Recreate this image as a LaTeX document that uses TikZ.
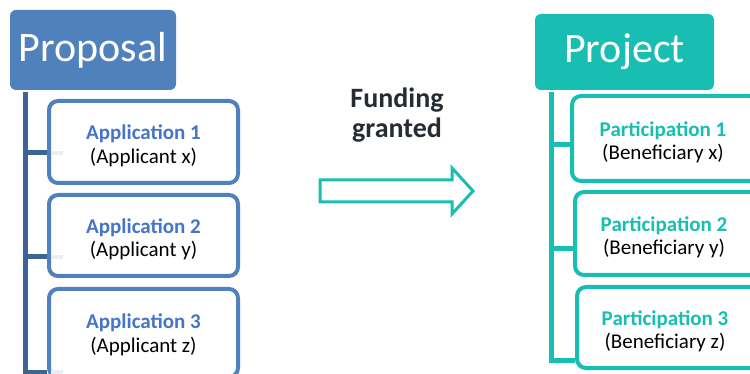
\documentclass[tikz,border=0pt]{standalone}
\usepackage{fontspec}
\setmainfont{Carlito}
\definecolor{pblue}{HTML}{4F81BD}
\definecolor{tblue}{HTML}{4674C8}
\definecolor{trunkblue}{HTML}{3C6596}
\definecolor{faintblue}{HTML}{E8EEF5}
\definecolor{teal}{HTML}{17BEB1}
\definecolor{darktext}{HTML}{262C33}
\begin{document}
\begin{tikzpicture}[x=1pt,y=-1pt,
  headbox/.style={rounded corners=6pt, text=white, inner sep=0pt,
     font=\fontsize{42}{46}\selectfont},
  itembox/.style={draw, line width=4pt, rounded corners=9pt, fill=white,
     inner sep=0pt},
  itemtext/.style={align=center, inner sep=0pt, yshift=-4pt,
     font=\fontsize{21}{23.5}\selectfont},
  trunk/.style={line width=5pt},
  faint/.style={faintblue, line width=4pt}]
\useasboundingbox (0,0) rectangle (750,374);
% ---------- left: proposal ----------
\node[headbox, fill=pblue, minimum width=166pt, minimum height=80pt] (prop) at (93,50) {Proposal};
\coordinate (ltop) at (25,92);
\coordinate (lbot) at (25,376);
\coordinate (l1) at (25,153);
\coordinate (l2) at (25,257);
\coordinate (l3) at (25,372);
\draw[trunk, trunkblue] (ltop) -- (lbot);
\node[itembox, draw=pblue, minimum width=189pt, minimum height=82pt,
  label={[itemtext]center:{\textbf{\textcolor{tblue}{Application 1}}\\(Applicant x)}}] (a1) at (143.5,142) {};
\node[itembox, draw=pblue, minimum width=189pt, minimum height=81pt,
  label={[itemtext]center:{\textbf{\textcolor{tblue}{Application 2}}\\(Applicant y)}}] (a2) at (143.5,235.5) {};
\node[itembox, draw=pblue, minimum width=189pt, minimum height=88pt,
  label={[itemtext, yshift=2pt]center:{\textbf{\textcolor{tblue}{Application 3}}\\(Applicant z)}}] (a3) at (143.5,333) {};
\draw[faint] ([xshift=4pt]l1 -| a1.west) -- ++(12,0);
\draw[faint] ([xshift=4pt]l2 -| a2.west) -- ++(12,0);
\draw[faint] ([xshift=4pt]l3 -| a3.west) -- ++(12,0);
\draw[trunk, trunkblue] (l1) -- (l1 -| a1.west);
\draw[trunk, trunkblue] (l2) -- (l2 -| a2.west);
\draw[trunk, trunkblue] (l3) -- (l3 -| a3.west);
% ---------- middle ----------
\node[font=\fontsize{28}{30}\selectfont\bfseries, text=darktext, align=center] (fund) at (397,115)
  {Funding\\granted};
\draw[teal, line width=3pt, line join=miter]
  (320,180) -- (452,180) -- (452,168) -- (473,191) -- (452,214) -- (452,202) -- (320,202) -- cycle;
% ---------- right: project ----------
\node[headbox, fill=teal, minimum width=179pt, minimum height=76pt] (proj) at (624.5,52) {Project};
\coordinate (rtop) at (551,92);
\coordinate (rbot) at (551,362.5);
\coordinate (r1) at (551,145);
\coordinate (r2) at (551,249);
\coordinate (r3) at (551,360);
\draw[trunk, teal] (rtop) -- (rbot);
\node[itembox, draw=teal, minimum width=186pt, minimum height=85pt,
  label={[itemtext, xshift=-2pt]center:{\textbf{\textcolor{teal}{Participation 1}}\\(Beneficiary x)}}] (p1) at (665,138.5) {};
\node[itembox, draw=teal, minimum width=186pt, minimum height=83pt,
  label={[itemtext, xshift=-4pt]center:{\textbf{\textcolor{teal}{Participation 2}}\\(Beneficiary y)}}] (p2) at (668,233.5) {};
\node[itembox, draw=teal, minimum width=186pt, minimum height=81pt,
  label={[itemtext, xshift=-5pt]center:{\textbf{\textcolor{teal}{Participation 3}}\\(Beneficiary z)}}] (p3) at (670,327.5) {};
\draw[trunk, teal] (r1) -- (r1 -| p1.west);
\draw[trunk, teal] (r2) -- (r2 -| p2.west);
\draw[trunk, teal] (r3) -- (r3 -| p3.west);
\end{tikzpicture}
\end{document}
